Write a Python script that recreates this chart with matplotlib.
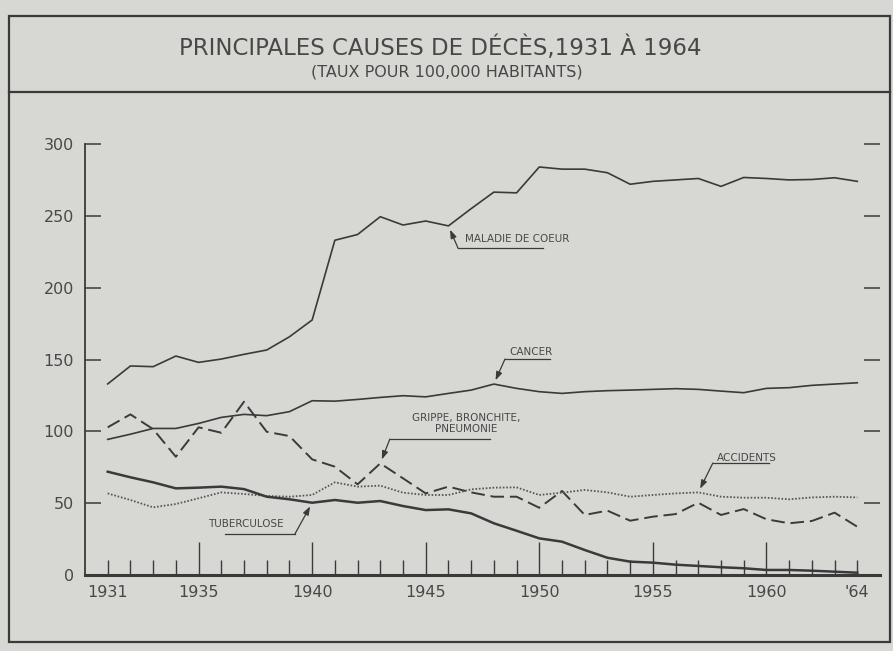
import matplotlib
matplotlib.use("Agg")
import matplotlib.pyplot as plt
from matplotlib.ticker import FixedLocator, FuncFormatter
from matplotlib.patches import Rectangle
from matplotlib.lines import Line2D

# ---------------- data ----------------
years = list(range(1931, 1965))

maladie_coeur = [133, 145.5, 145, 152.4, 148, 150.3, 153.6, 156.6, 165.8, 177.5,
                 233, 237, 249.4, 243.6, 246.4, 243, 255, 266.5, 266, 284,
                 282.5, 282.5, 280, 272, 274, 275, 276, 270.5, 276.7, 276,
                 275, 275.3, 276.5, 274]

cancer = [94.4, 98, 102, 102, 105.5, 109.7, 111.8, 110.9, 113.7, 121.3,
          121, 122.2, 123.6, 124.8, 124, 126.4, 128.7, 132.9, 129.9, 127.6,
          126.4, 127.6, 128.3, 128.7, 129.2, 129.7, 129.2, 128, 126.9, 129.9,
          130.4, 132, 132.9, 133.8]

grippe = [102.8, 111.8, 101.5, 82.3, 102.8, 99, 120.6, 99.7, 96.7, 80.5,
          75.4, 63.1, 77.7, 67.3, 56.8, 61.5, 57.5, 54.5, 54.5, 46.8,
          58.5, 41.8, 44.8, 37.8, 40.6, 42.4, 50.3, 41.8, 45.9, 38.8,
          36, 37.6, 43.4, 33.6]

accidents = [56.8, 52.2, 47.1, 49.4, 53.4, 57.5, 56.4, 55, 54.5, 55.7,
             64.5, 61.5, 62.2, 57.3, 55.7, 55.7, 59.6, 60.8, 61, 55.7,
             57.3, 59.2, 57.5, 54.5, 55.7, 56.8, 57.5, 54.5, 53.8, 53.8,
             52.7, 54, 54.5, 54]

tuberculose = [71.9, 68, 64.5, 60.3, 60.8, 61.5, 59.8, 54.5, 52.7, 50.3,
               52.2, 50.3, 51.5, 48, 45.2, 45.7, 42.9, 36, 30.8, 25.5,
               23.2, 17.4, 12, 9.3, 8.6, 7.2, 6.3, 5.4, 4.7, 3.5,
               3.5, 3, 2.3, 1.6]

y_ticks = [0, 50, 100, 150, 200, 250, 300]
x_major = [1935, 1940, 1945, 1950, 1955, 1960]
edge_labels = {1931: "1931", 1964: "'64"}

title = "PRINCIPALES CAUSES DE DÉCÈS,1931 À 1964"
subtitle = "(TAUX POUR 100,000 HABITANTS)"

# ---------------- style ----------------
bg = "#d7d7d3"
ink = "#3a3a3a"
txt = "#484848"
plt.rcParams["font.family"] = ["DejaVu Sans"]

W, H = 893, 651
fig = plt.figure(figsize=(W / 100, H / 100), dpi=100, facecolor=bg)

# outer frame and title separator
fig.patches.append(Rectangle((9 / W, 9 / H), 881 / W, 626 / H, transform=fig.transFigure,
                             fill=False, edgecolor=ink, lw=1.6))
fig.lines.append(Line2D([9 / W, 890 / W], [1 - 92 / H, 1 - 92 / H], transform=fig.transFigure,
                        color=ink, lw=1.6))

fig.text(440 / W, 1 - 48 / H, title, ha="center", va="center", fontsize=16.5, color=txt)
fig.text(447 / W, 1 - 72 / H, subtitle, ha="center", va="center", fontsize=11.5, color=txt)

ax = fig.add_axes([85 / W, 76 / H, 795 / W, 431 / H])
ax.set_facecolor(bg)
ax.set_xlim(1930, 1965)
ax.set_ylim(0, 300)

for s in ("top", "right"):
    ax.spines[s].set_visible(False)
ax.spines["left"].set_color(ink)
ax.spines["left"].set_linewidth(1.3)
ax.spines["bottom"].set_color(ink)
ax.spines["bottom"].set_linewidth(2.2)

# y ticks
ax.yaxis.set_major_locator(FixedLocator(y_ticks))
ax.tick_params(axis="y", which="major", direction="in", length=11.5, width=1.1,
               color=ink, left=True, right=True, labelleft=True, labelright=False,
               labelsize=11.5, labelcolor=txt, pad=8)

# x ticks
minor_years = [y for y in years if y not in x_major]
ax.xaxis.set_major_locator(FixedLocator(x_major))
ax.xaxis.set_minor_locator(FixedLocator(minor_years))
ax.xaxis.set_major_formatter(FuncFormatter(lambda v, p: str(int(round(v)))))
ax.xaxis.set_minor_formatter(FuncFormatter(lambda v, p: edge_labels.get(int(round(v)), "")))
ax.tick_params(axis="x", which="major", direction="in", length=23.5, width=1.0,
               color=ink, labelsize=11.5, labelcolor=txt, pad=7)
ax.tick_params(axis="x", which="minor", direction="in", length=11, width=1.0,
               color=ink, labelsize=11.5, labelcolor=txt, pad=7)

# series
ax.plot(years, maladie_coeur, color=ink, lw=1.2)
ax.plot(years, cancer, color=ink, lw=1.2)
ax.plot(years, grippe, color=ink, lw=1.4, dashes=(7, 3))
ax.plot(years, accidents, color="#555555", lw=1.3, dashes=(0.9, 1.0))
ax.plot(years, tuberculose, color=ink, lw=1.8)

# annotations (label, underline, leader to the curve)
def label(text, tx, ty, ha, ux0, ux1, uy, series, year, elbow_left=True):
    ax.text(tx, ty, text, ha=ha, va="center", fontsize=7.5, color=txt, linespacing=1.2)
    ax.plot([ux0, ux1], [uy, uy], color=ink, lw=0.9)
    ex = ux0 if elbow_left else ux1
    ax.annotate("", xy=(year, series[years.index(year)]), xytext=(ex, uy),
                arrowprops=dict(arrowstyle="-|>,head_length=0.5,head_width=0.18",
                                color=ink, lw=0.9, shrinkA=0, shrinkB=3))

label("MALADIE DE COEUR", 1946.73, 233.8, "left", 1946.42, 1950.15, 227.6, maladie_coeur, 1946)
label("CANCER", 1948.7, 155.2, "left", 1948.49, 1950.45, 150.3, cancer, 1948)
label("GRIPPE, BRONCHITE,\nPNEUMONIE", 1946.8, 105.5, "center", 1943.42, 1947.85, 94.6, grippe, 1943)
label("ACCIDENTS", 1957.8, 81.4, "left", 1957.64, 1960.1, 77.9, accidents, 1957)
label("TUBERCULOSE", 1935.41, 35.5, "left", 1936.16, 1939.24, 28.5, tuberculose, 1940,
      elbow_left=False)

fig.savefig("out.png", dpi=100, facecolor=bg)
